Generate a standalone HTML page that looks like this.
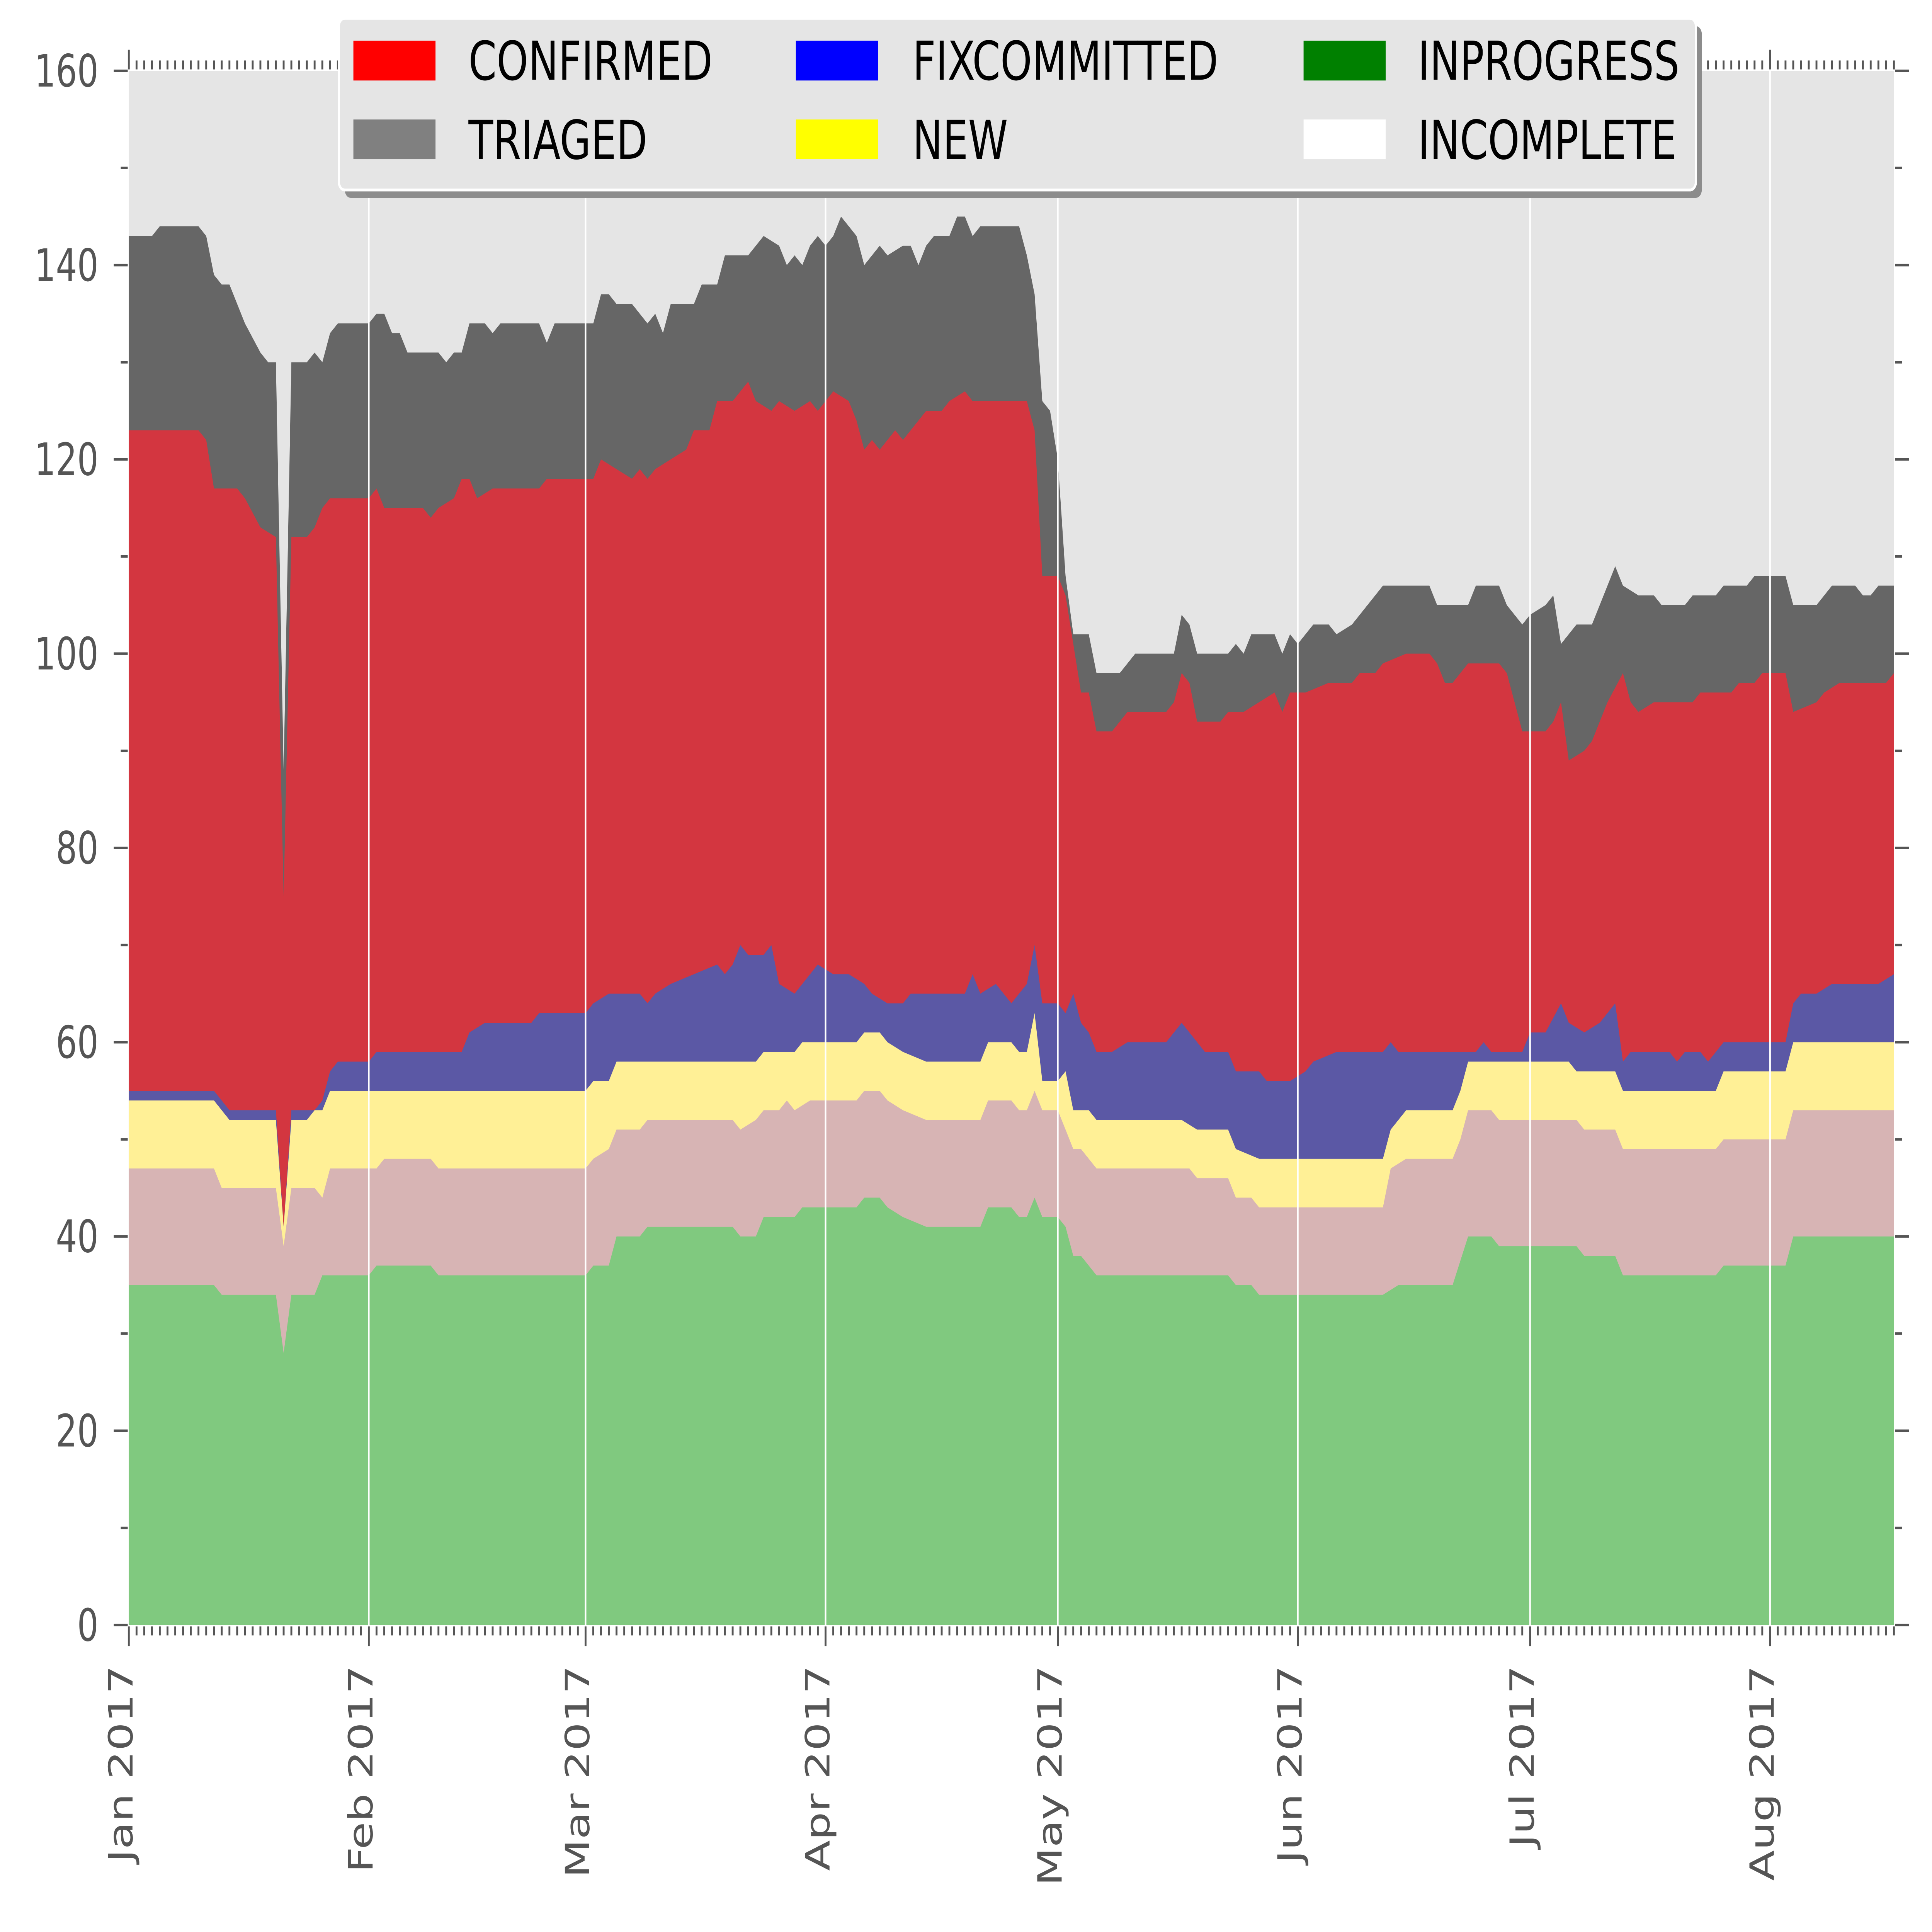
<!DOCTYPE html>
<html><head><meta charset="utf-8"><style>
html,body{margin:0;padding:0;background:#fff;width:100%;height:100%;overflow:hidden;}
svg{display:block;width:100vw;height:100vh;}
text{font-family:"DejaVu Sans","Liberation Sans",sans-serif;}
</style></head><body>
<svg id="chart" xmlns="http://www.w3.org/2000/svg" viewBox="0 0 7200 5400" preserveAspectRatio="none" overflow="hidden">
<rect x="480" y="198" width="6578" height="4344" fill="#e5e5e5"/>
<g id="areas"></g>
<g id="grid"></g>
<g id="axes"></g>
<g id="legend">
<rect x="1285" y="73" width="5057" height="480" rx="22" fill="#8c8c8c"/>
<rect x="1263" y="51" width="5057" height="480" rx="22" fill="#e5e5e5" stroke="#ffffff" stroke-width="8"/>
<rect x="1317" y="114" width="306" height="111" fill="#ff0000"/>
<text x="1746" y="223" font-size="150" fill="#000">CONFIRMED</text>
<rect x="2966" y="114" width="306" height="111" fill="#0000ff"/>
<text x="3401" y="223" font-size="150" fill="#000">FIXCOMMITTED</text>
<rect x="4858" y="114" width="306" height="111" fill="#008000"/>
<text x="5284" y="223" font-size="150" fill="#000">INPROGRESS</text>
<rect x="1317" y="334" width="306" height="111" fill="#808080"/>
<text x="1746" y="444" font-size="150" fill="#000">TRIAGED</text>
<rect x="2966" y="334" width="306" height="111" fill="#ffff00"/>
<text x="3401" y="444" font-size="150" fill="#000">NEW</text>
<rect x="4858" y="334" width="306" height="111" fill="#ffffff"/>
<text x="5284" y="444" font-size="150" fill="#000">INCOMPLETE</text>
</g>
</svg>
<script>
// cumulative stack tops: [day index since 2017-01-01, value]
const inprogressTop=[[0,35],[11,35],[12,34],[19,34],[20,28],[21,34],[24,34],[25,36],[31,36],[32,37],[39,37],[40,36],[59,36],[60,37],[62,37],[63,40],[66,40],[67,41],[78,41],[79,40],[81,40],[82,42],[86,42],[87,43],[94,43],[95,44],[97,44],[98,43],[100,42],[103,41],[110,41],[111,43],[114,43],[115,42],[116,42],[117,44],[118,42],[120,42],[121,41],[122,38],[123,38],[125,36],[142,36],[143,35],[145,35],[146,34],[162,34],[164,35],[171,35],[173,40],[176,40],[177,39],[187,39],[188,38],[192,38],[193,36],[205,36],[206,37],[214,37],[215,40],[228,40]];
const incompleteTop=[[0,47],[11,47],[12,45],[19,45],[20,39],[21,45],[24,45],[25,44],[26,47],[32,47],[33,48],[39,48],[40,47],[59,47],[60,48],[62,49],[63,51],[66,51],[67,52],[78,52],[79,51],[81,52],[82,53],[84,53],[85,54],[86,53],[88,54],[94,54],[95,55],[97,55],[98,54],[100,53],[103,52],[110,52],[111,54],[114,54],[115,53],[116,53],[117,55],[118,53],[120,53],[121,51],[122,49],[123,49],[125,47],[137,47],[138,46],[142,46],[143,44],[145,44],[146,43],[162,43],[163,47],[165,48],[171,48],[172,50],[173,53],[176,53],[177,52],[187,52],[188,51],[192,51],[193,49],[205,49],[206,50],[214,50],[215,53],[228,53]];
const newTop=[[0,54],[11,54],[12,53],[13,52],[19,52],[20,41],[21,52],[23,52],[24,53],[25,53],[26,55],[59,55],[60,56],[62,56],[63,58],[81,58],[82,59],[86,59],[87,60],[94,60],[95,61],[97,61],[98,60],[100,59],[103,58],[110,58],[111,60],[114,60],[115,59],[116,59],[117,63],[118,56],[120,56],[121,57],[122,53],[124,53],[125,52],[136,52],[138,51],[142,51],[143,49],[146,48],[162,48],[163,51],[165,53],[171,53],[172,55],[173,58],[186,58],[187,57],[192,57],[193,55],[205,55],[206,57],[214,57],[215,60],[228,60]];
const fixcommittedTop=[[0,55],[11,55],[12,54],[13,53],[19,53],[20,41],[21,53],[24,53],[25,54],[26,57],[27,58],[31,58],[32,59],[43,59],[44,61],[46,62],[52,62],[53,63],[59,63],[60,64],[62,65],[66,65],[67,64],[68,65],[70,66],[73,67],[76,68],[77,67],[78,68],[79,70],[80,69],[82,69],[83,70],[84,66],[86,65],[87,66],[89,68],[91,67],[93,67],[95,66],[96,65],[98,64],[100,64],[101,65],[108,65],[109,67],[110,65],[112,66],[114,64],[116,66],[117,70],[118,64],[120,64],[121,63],[122,65],[123,62],[124,61],[125,59],[127,59],[129,60],[134,60],[136,62],[137,61],[139,59],[142,59],[143,57],[146,57],[147,56],[150,56],[152,57],[153,58],[156,59],[162,59],[163,60],[164,59],[174,59],[175,60],[176,59],[180,59],[181,61],[183,61],[185,64],[186,62],[188,61],[190,62],[192,64],[193,58],[194,59],[199,59],[200,58],[201,59],[203,59],[204,58],[206,60],[214,60],[215,64],[216,65],[218,65],[220,66],[226,66],[228,67]];
const confirmedTop=[[0,123],[9,123],[10,122],[11,117],[14,117],[15,116],[17,113],[19,112],[20,75],[21,112],[23,112],[24,113],[25,115],[26,116],[31,116],[32,117],[33,115],[38,115],[39,114],[40,115],[42,116],[43,118],[44,118],[45,116],[47,117],[53,117],[54,118],[60,118],[61,120],[63,119],[65,118],[66,119],[67,118],[68,119],[70,120],[72,121],[73,123],[75,123],[76,126],[78,126],[80,128],[81,126],[83,125],[84,126],[86,125],[88,126],[89,125],[91,127],[93,126],[94,124],[95,121],[96,122],[97,121],[99,123],[100,122],[102,124],[103,125],[105,125],[106,126],[108,127],[109,126],[116,126],[117,123],[118,108],[120,108],[121,106],[122,101],[123,96],[124,96],[125,92],[127,92],[129,94],[134,94],[135,95],[136,98],[137,97],[138,93],[141,93],[142,94],[144,94],[146,95],[148,96],[149,94],[150,96],[152,96],[155,97],[158,97],[159,98],[161,98],[162,99],[165,100],[168,100],[169,99],[170,97],[171,97],[173,99],[177,99],[178,98],[180,92],[183,92],[184,93],[185,95],[186,89],[188,90],[189,91],[191,95],[193,98],[194,95],[195,94],[197,95],[202,95],[203,96],[207,96],[208,97],[210,97],[211,98],[214,98],[215,94],[218,95],[219,96],[221,97],[227,97],[228,98]];
const triagedTop=[[0,143],[3,143],[4,144],[9,144],[10,143],[11,139],[12,138],[13,138],[15,134],[17,131],[18,130],[19,130],[20,88],[21,130],[23,130],[24,131],[25,130],[26,133],[27,134],[31,134],[32,135],[33,135],[34,133],[35,133],[36,131],[40,131],[41,130],[42,131],[43,131],[44,134],[46,134],[47,133],[48,134],[53,134],[54,132],[55,134],[60,134],[61,137],[62,137],[63,136],[65,136],[66,135],[67,134],[68,135],[69,133],[70,136],[73,136],[74,138],[76,138],[77,141],[80,141],[81,142],[82,143],[84,142],[85,140],[86,141],[87,140],[88,142],[89,143],[90,142],[91,143],[92,145],[93,144],[94,143],[95,140],[96,141],[97,142],[98,141],[100,142],[101,142],[102,140],[103,142],[104,143],[106,143],[107,145],[108,145],[109,143],[110,144],[115,144],[116,141],[117,137],[118,126],[119,125],[120,120],[121,108],[122,102],[124,102],[125,98],[128,98],[129,99],[130,100],[135,100],[136,104],[137,103],[138,100],[142,100],[143,101],[144,100],[145,102],[148,102],[149,100],[150,102],[151,101],[152,102],[153,103],[155,103],[156,102],[158,103],[159,104],[161,106],[162,107],[168,107],[169,105],[173,105],[174,107],[177,107],[178,105],[180,103],[181,104],[183,105],[184,106],[185,101],[186,102],[187,103],[189,103],[192,109],[193,107],[195,106],[197,106],[198,105],[201,105],[202,106],[205,106],[206,107],[209,107],[210,108],[214,108],[215,105],[218,105],[219,106],[220,107],[223,107],[224,106],[225,106],[226,107],[228,107]];
const monthLabels=["Jan 2017","Feb 2017","Mar 2017","Apr 2017","May 2017","Jun 2017","Jul 2017","Aug 2017"];
const monthDays=[0,31,59,90,120,151,181,212];
const yTicks=[0,20,40,60,80,100,120,140,160];
const lastDay=228;

const NS="http://www.w3.org/2000/svg";
const X0=480,X1=7058,Y0=4542,Y1=198;
const xs=d=>X0+(X1-X0)*d/lastDay;
const ys=v=>Y0-(Y0-Y1)*v/160;
function mk(tag,attrs,parent){const e=document.createElementNS(NS,tag);for(const k in attrs)e.setAttribute(k,attrs[k]);parent.appendChild(e);return e;}

const areas=document.getElementById('areas');
const layers=[["triaged-area",triagedTop,"#666666"],["confirmed-area",confirmedTop,"#d33640"],["fixcommitted-area",fixcommittedTop,"#5b58a5"],["new-area",newTop,"#fff096"],["incomplete-area",incompleteTop,"#d7b4b4"],["inprogress-area",inprogressTop,"#80c97f"]];
layers.forEach(([name,data,col])=>{
  let d="M"+xs(data[0][0]).toFixed(1)+","+ys(0);
  data.forEach(p=>{d+=" L"+xs(p[0]).toFixed(1)+","+ys(p[1]).toFixed(1);});
  d+=" L"+xs(data[data.length-1][0]).toFixed(1)+","+ys(0)+" Z";
  const p=mk('path',{d:d,fill:col},areas);
  
  
});

const grid=document.getElementById('grid');
monthDays.forEach((m,i)=>{
  if(m===0)return;
  const l=mk('line',{x1:xs(m),x2:xs(m),y1:Y1,y2:Y0,stroke:"#ffffff","stroke-width":6},grid);
  
  
});

const axes=document.getElementById('axes');
const tc="#555555";
for(let d=0;d<=lastDay;d++){
  const isMajor=monthDays.indexOf(d)>=0;
  const len=isMajor?55:25;
  const b=mk('line',{x1:xs(d),x2:xs(d),y1:Y0+4,y2:Y0+4+len,stroke:tc,"stroke-width":7},axes);
  
  
  const t=mk('line',{x1:xs(d),x2:xs(d),y1:Y1-4,y2:Y1-4-len,stroke:tc,"stroke-width":7},axes);
  
  
}
for(let v=0;v<=160;v+=10){
  const isMajor=v%20===0;
  const len=isMajor?52:26;
  const l=mk('line',{x1:X0-4,x2:X0-4-len,y1:ys(v),y2:ys(v),stroke:tc,"stroke-width":7},axes);
  
  
  const r=mk('line',{x1:X1+4,x2:X1+4+len,y1:ys(v),y2:ys(v),stroke:tc,"stroke-width":7},axes);
  
  
}
yTicks.forEach(v=>{
  const t=mk('text',{x:367,y:ys(v)+44,"text-anchor":"end","font-size":125,fill:tc},axes);
  t.textContent=String(v);
  
  
});
monthDays.forEach((m,i)=>{
  const x=xs(m)-28,y=4655;
  const t=mk('text',{x:x,y:y,transform:"rotate(-90 "+x+" "+y+")","text-anchor":"end","dominant-baseline":"central","font-size":125,fill:tc},axes);
  t.textContent=monthLabels[i];
  
  
});
</script>
</body></html>
